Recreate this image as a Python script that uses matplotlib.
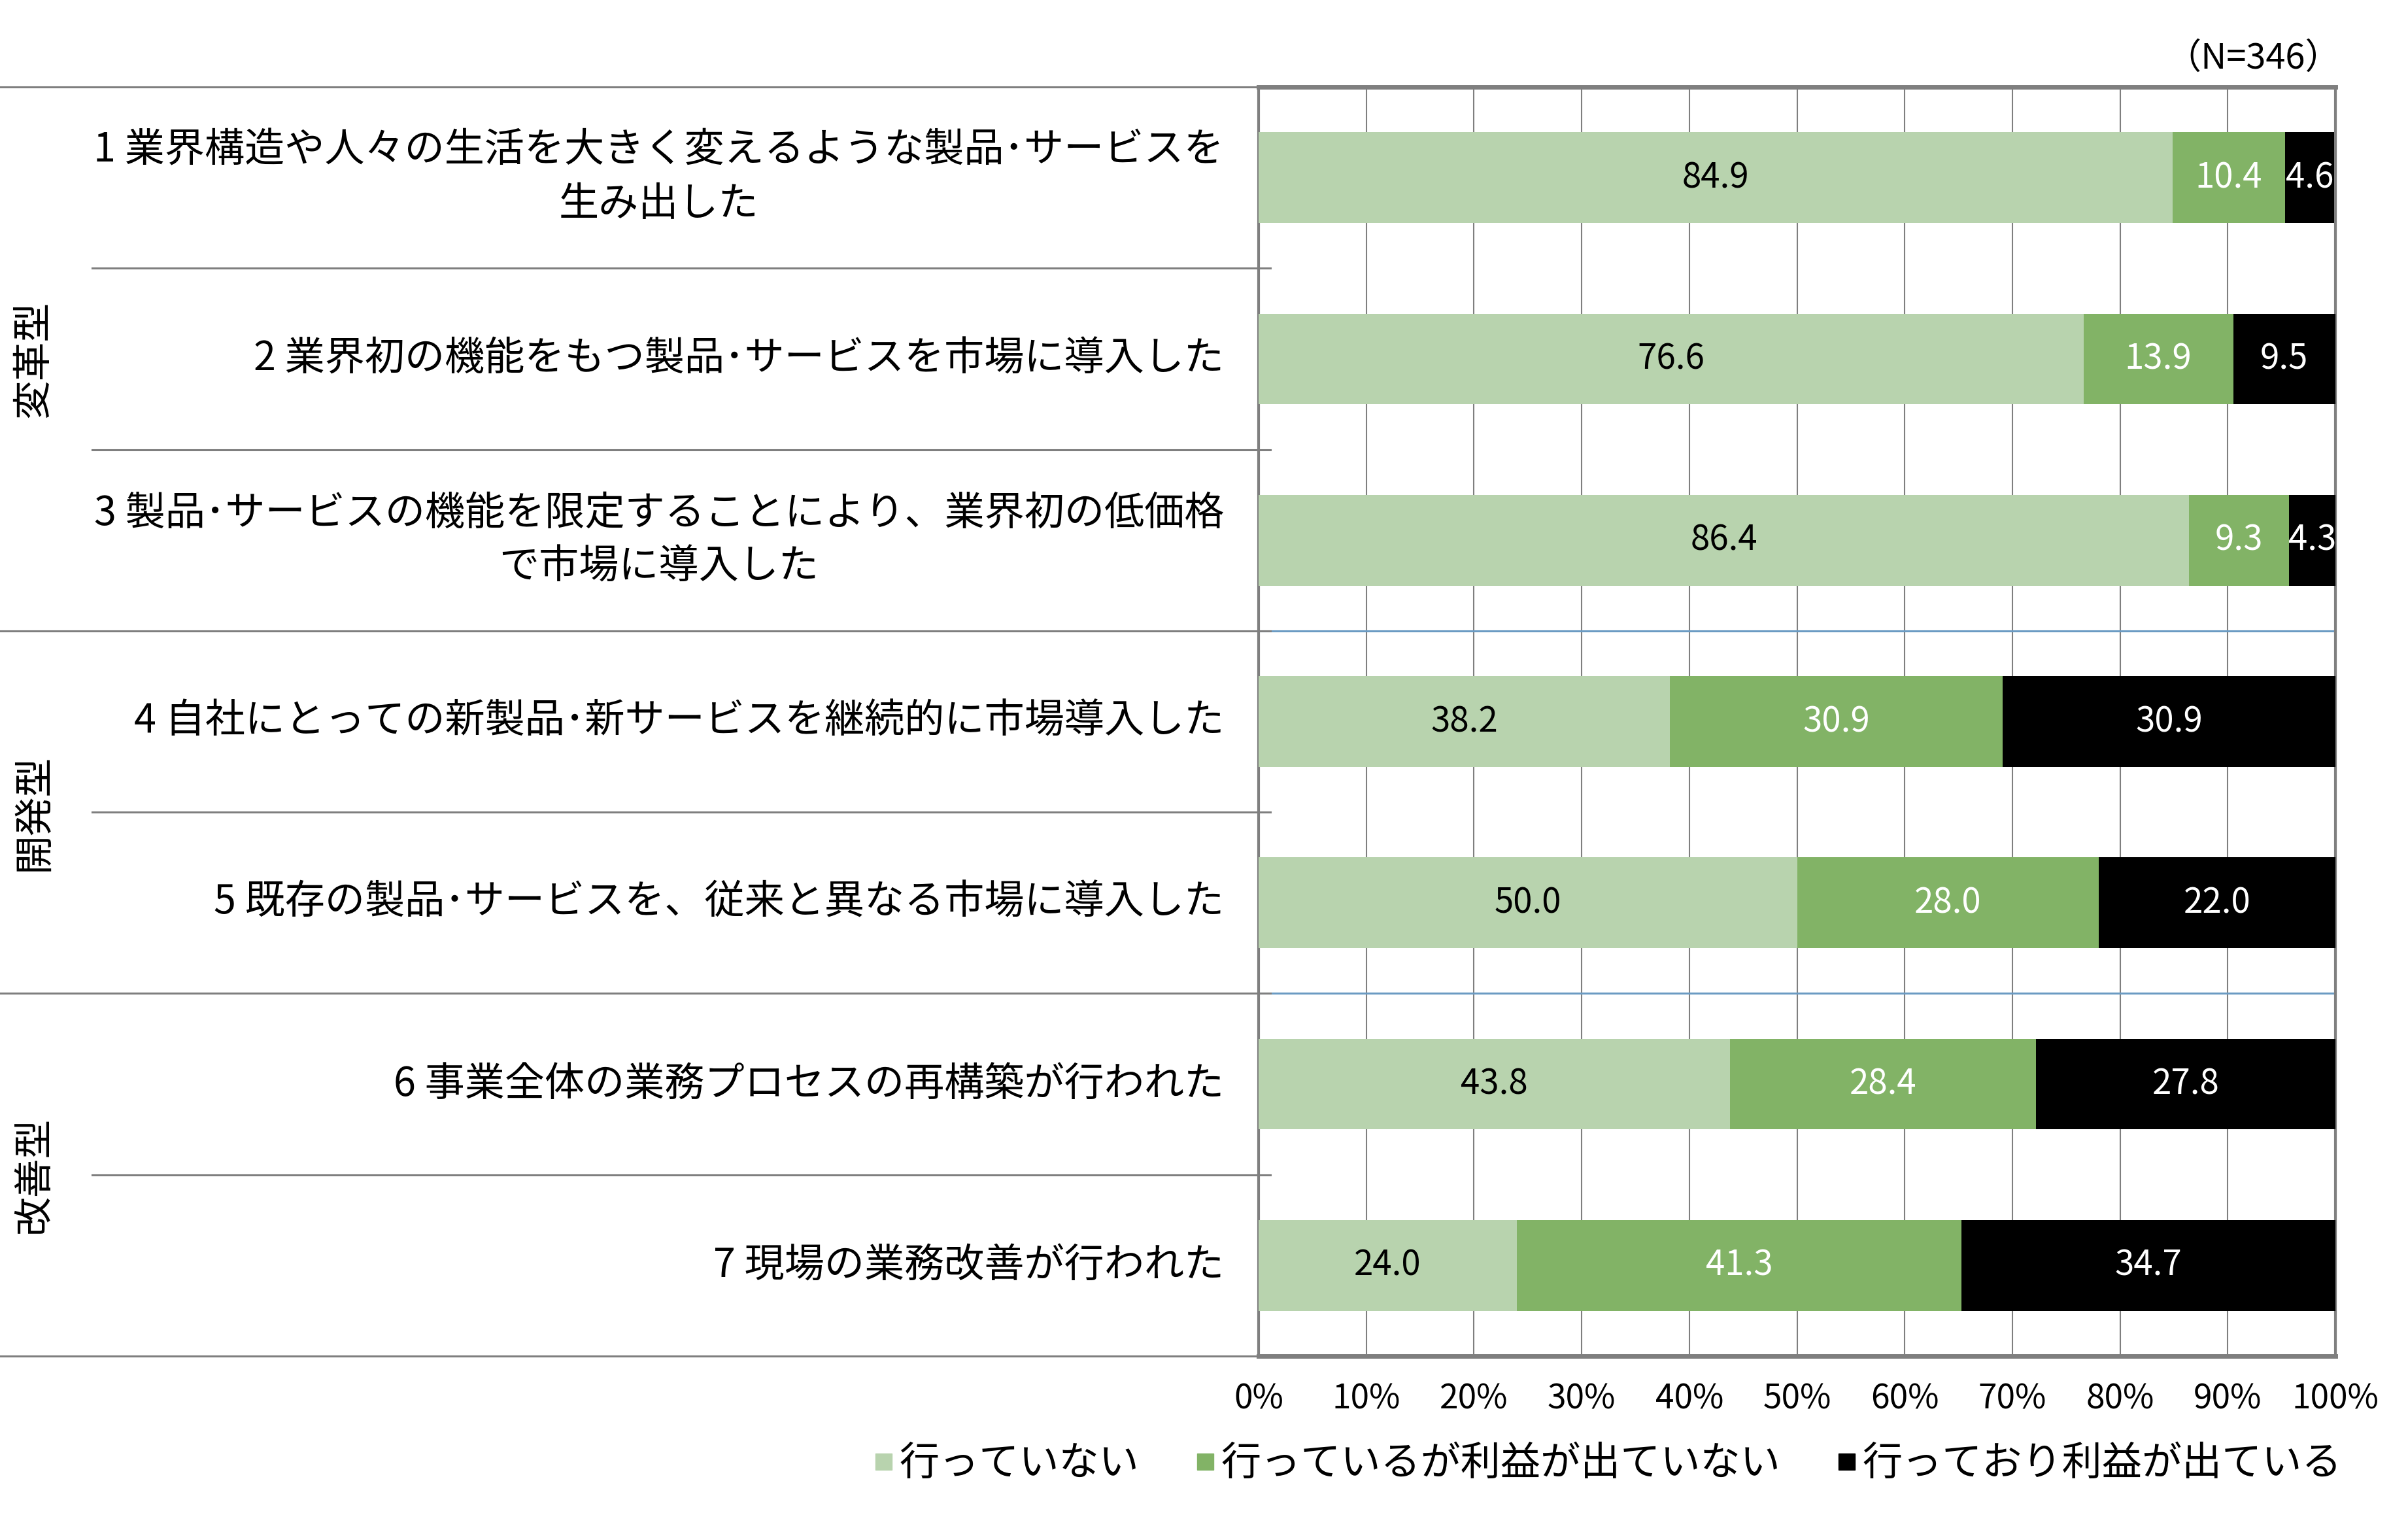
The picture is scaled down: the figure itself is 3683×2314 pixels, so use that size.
import numpy as np
import matplotlib
matplotlib.use("Agg")
import matplotlib.pyplot as plt
from matplotlib.lines import Line2D
from matplotlib import transforms

plt.rcParams['font.family'] = ['Noto Sans CJK JP', 'DejaVu Sans']

# data
categories = [
    "1 業界構造や人々の生活を大きく変えるような製品･サービスを\n生み出した",
    "2 業界初の機能をもつ製品･サービスを市場に導入した",
    "3 製品･サービスの機能を限定することにより、業界初の低価格\nで市場に導入した",
    "4 自社にとっての新製品･新サービスを継続的に市場導入した",
    "5 既存の製品･サービスを、従来と異なる市場に導入した",
    "6 事業全体の業務プロセスの再構築が行われた",
    "7 現場の業務改善が行われた",
]
not_doing = [84.9, 76.6, 86.4, 38.2, 50.0, 43.8, 24.0]
no_profit = [10.4, 13.9, 9.3, 30.9, 28.0, 28.4, 41.3]
profit = [4.6, 9.5, 4.3, 30.9, 22.0, 27.8, 34.7]
series_names = ["行っていない", "行っているが利益が出ていない", "行っており利益が出ている"]
groups = ["変革型", "開発型", "改善型"]
group_rows = [(0, 3), (3, 5), (5, 7)]
x_ticks = [0, 10, 20, 30, 40, 50, 60, 70, 80, 90, 100]
n_note = "（N=346）"

colors = ["#b8d3ae", "#82b366", "#000000"]
text_colors = ["black", "white", "white"]
grey = "#7f7f7f"

W, H = 3683, 2314
fig = plt.figure(figsize=(W / 100, H / 100), dpi=100)
ax = fig.add_axes([1925 / W, 1 - 2074 / H, (3572 - 1925) / W, (2074 - 133) / H])

y = np.arange(len(categories))
left = np.zeros(len(categories))
for vals, c, tc, name in zip([not_doing, no_profit, profit], colors, text_colors, series_names):
    bars = ax.barh(y, vals, left=left, height=0.5, color=c, label=name, zorder=3)
    ax.bar_label(bars, labels=[f"{v:.1f}" for v in vals], label_type='center',
                 color=tc, fontsize=38, zorder=4)
    left += np.array(vals)

ax.set_xlim(0, 100)
ax.set_ylim(len(categories) - 0.5, -0.5)
ax.set_xticks(x_ticks)
ax.set_xticklabels([f"{t}%" for t in x_ticks], fontsize=37)
ax.tick_params(axis='x', length=0, pad=28)
ax.set_yticks([])
ax.grid(axis='x', color=grey, linewidth=1.5, zorder=0)
for side, lw in [('top', 5), ('bottom', 5), ('left', 3), ('right', 3)]:
    ax.spines[side].set_color(grey)
    ax.spines[side].set_linewidth(lw)

# table lines on the left, in figure x / data y
tr = transforms.blended_transform_factory(fig.transFigure, ax.transData)
group_edges = [g[0] for g in group_rows] + [len(categories)]
for b in range(len(categories) + 1):
    yb = b - 0.5
    x0 = 0.0 if b in group_edges else 141 / W
    fig.add_artist(Line2D([x0, 1943 / W], [yb, yb], transform=tr, color=grey, lw=2.2))
for b in group_edges[1:-1]:
    ax.axhline(b - 0.5, color="#6b9bc3", lw=2.2, zorder=2)

for i, lab in enumerate(categories):
    fig.text(1872 / W, i, lab, transform=tr, ha='right', va='center',
             multialignment='center', fontsize=44, linespacing=1.4)

for g, (a, b) in zip(groups, group_rows):
    fig.text(52 / W, (a + b - 1) / 2, g, transform=tr, ha='center', va='center',
             rotation=90, fontsize=43)

fig.text(3580 / W, 1 - 89 / H, n_note, ha='right', va='center', fontsize=39)

handles = [Line2D([], [], marker='s', linestyle='', color=c, markersize=18) for c in colors]
fig.legend(handles, series_names, loc='center', bbox_to_anchor=(2459 / W, 1 - 2239 / H),
           ncol=3, frameon=False, fontsize=44, handlelength=0.5, handletextpad=0.15,
           columnspacing=1.4)

fig.savefig("out.png", dpi=100)
